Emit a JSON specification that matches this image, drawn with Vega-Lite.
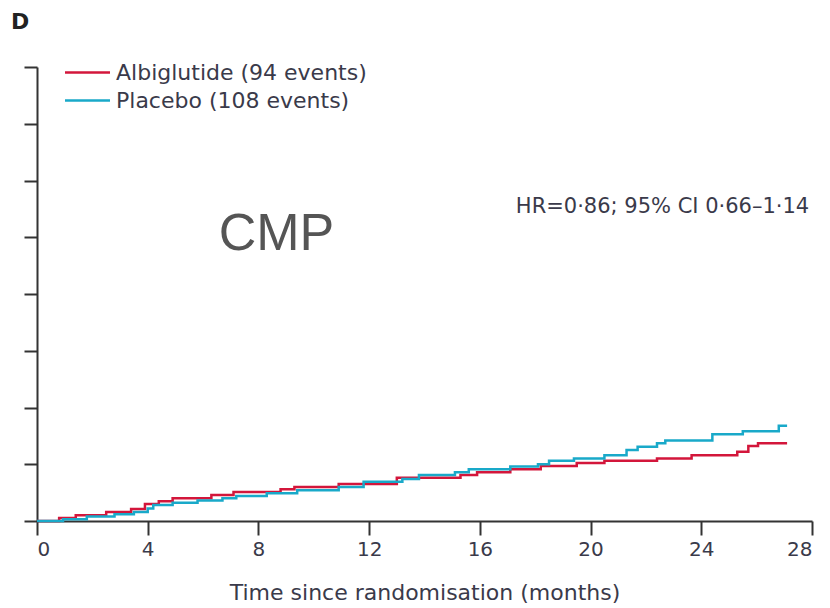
{
  "$schema": "https://vega.github.io/schema/vega-lite/v6.json",
  "width": 775,
  "height": 454,
  "autosize": "none",
  "padding": {"left": 37, "top": 67, "right": 18, "bottom": 87},
  "background": "white",
  "title": {"text": "D", "anchor": "start", "fontSize": 22, "fontWeight": "bold", "color": "#222", "dx": -12, "dy": 2, "offset": 28, "font": "DejaVu Sans"},
  "config": {
    "view": {"stroke": null},
    "font": "DejaVu Sans",
    "axis": {"domainColor": "#333", "tickColor": "#333", "domainWidth": 2, "tickWidth": 2, "grid": false, "labelFont": "DejaVu Sans", "titleFont": "DejaVu Sans", "labelColor": "#3a3a4a", "titleColor": "#3a3a4a"}
  },
  "layer": [
    {
      "data": {"values": [
        {"t": 0, "v": 0, "g": "Albiglutide (94 events)"},
        {"t": 0.8, "v": 0.26, "g": "Albiglutide (94 events)"},
        {"t": 1.4, "v": 0.5, "g": "Albiglutide (94 events)"},
        {"t": 2.5, "v": 0.8, "g": "Albiglutide (94 events)"},
        {"t": 3.4, "v": 1.05, "g": "Albiglutide (94 events)"},
        {"t": 3.9, "v": 1.5, "g": "Albiglutide (94 events)"},
        {"t": 4.4, "v": 1.75, "g": "Albiglutide (94 events)"},
        {"t": 4.9, "v": 2.0, "g": "Albiglutide (94 events)"},
        {"t": 6.3, "v": 2.3, "g": "Albiglutide (94 events)"},
        {"t": 7.1, "v": 2.55, "g": "Albiglutide (94 events)"},
        {"t": 8.8, "v": 2.8, "g": "Albiglutide (94 events)"},
        {"t": 9.3, "v": 3.0, "g": "Albiglutide (94 events)"},
        {"t": 10.9, "v": 3.25, "g": "Albiglutide (94 events)"},
        {"t": 13.0, "v": 3.8, "g": "Albiglutide (94 events)"},
        {"t": 15.3, "v": 4.05, "g": "Albiglutide (94 events)"},
        {"t": 15.9, "v": 4.3, "g": "Albiglutide (94 events)"},
        {"t": 17.1, "v": 4.55, "g": "Albiglutide (94 events)"},
        {"t": 18.2, "v": 4.85, "g": "Albiglutide (94 events)"},
        {"t": 19.5, "v": 5.1, "g": "Albiglutide (94 events)"},
        {"t": 20.5, "v": 5.3, "g": "Albiglutide (94 events)"},
        {"t": 22.4, "v": 5.5, "g": "Albiglutide (94 events)"},
        {"t": 23.65, "v": 5.8, "g": "Albiglutide (94 events)"},
        {"t": 25.3, "v": 6.1, "g": "Albiglutide (94 events)"},
        {"t": 25.7, "v": 6.6, "g": "Albiglutide (94 events)"},
        {"t": 26.05, "v": 6.85, "g": "Albiglutide (94 events)"},
        {"t": 27.1, "v": 6.85, "g": "Albiglutide (94 events)"},
        {"t": 0, "v": 0, "g": "Placebo (108 events)"},
        {"t": 0.94, "v": 0.15, "g": "Placebo (108 events)"},
        {"t": 1.8, "v": 0.4, "g": "Placebo (108 events)"},
        {"t": 2.8, "v": 0.6, "g": "Placebo (108 events)"},
        {"t": 3.5, "v": 0.8, "g": "Placebo (108 events)"},
        {"t": 4.0, "v": 1.1, "g": "Placebo (108 events)"},
        {"t": 4.2, "v": 1.4, "g": "Placebo (108 events)"},
        {"t": 4.9, "v": 1.6, "g": "Placebo (108 events)"},
        {"t": 5.8, "v": 1.8, "g": "Placebo (108 events)"},
        {"t": 6.7, "v": 2.0, "g": "Placebo (108 events)"},
        {"t": 7.2, "v": 2.2, "g": "Placebo (108 events)"},
        {"t": 8.3, "v": 2.45, "g": "Placebo (108 events)"},
        {"t": 9.4, "v": 2.7, "g": "Placebo (108 events)"},
        {"t": 10.9, "v": 3.0, "g": "Placebo (108 events)"},
        {"t": 11.8, "v": 3.45, "g": "Placebo (108 events)"},
        {"t": 13.2, "v": 3.7, "g": "Placebo (108 events)"},
        {"t": 13.8, "v": 4.05, "g": "Placebo (108 events)"},
        {"t": 15.1, "v": 4.3, "g": "Placebo (108 events)"},
        {"t": 15.6, "v": 4.55, "g": "Placebo (108 events)"},
        {"t": 17.1, "v": 4.8, "g": "Placebo (108 events)"},
        {"t": 18.1, "v": 5.0, "g": "Placebo (108 events)"},
        {"t": 18.5, "v": 5.3, "g": "Placebo (108 events)"},
        {"t": 19.4, "v": 5.5, "g": "Placebo (108 events)"},
        {"t": 20.5, "v": 5.8, "g": "Placebo (108 events)"},
        {"t": 21.3, "v": 6.25, "g": "Placebo (108 events)"},
        {"t": 21.7, "v": 6.55, "g": "Placebo (108 events)"},
        {"t": 22.4, "v": 6.85, "g": "Placebo (108 events)"},
        {"t": 22.7, "v": 7.1, "g": "Placebo (108 events)"},
        {"t": 24.4, "v": 7.65, "g": "Placebo (108 events)"},
        {"t": 25.5, "v": 7.9, "g": "Placebo (108 events)"},
        {"t": 26.8, "v": 8.4, "g": "Placebo (108 events)"},
        {"t": 27.1, "v": 8.4, "g": "Placebo (108 events)"}
      ]},
      "mark": {"type": "line", "interpolate": "step-after", "strokeWidth": 2.5},
      "encoding": {
        "x": {"field": "t", "type": "quantitative", "scale": {"domain": [0, 28], "nice": false, "zero": true},
              "axis": {"values": [0, 4, 8, 12, 16, 20, 24, 28], "tickSize": 14, "labelFontSize": 20, "labelPadding": 4, "title": "Time since randomisation (months)", "titleFontSize": 22, "titleFontWeight": "normal", "titlePadding": 23}},
        "y": {"field": "v", "type": "quantitative", "scale": {"domain": [0, 40], "nice": false},
              "axis": {"values": [0, 5, 10, 15, 20, 25, 30, 35, 40], "tickSize": 13, "labels": false, "title": null}},
        "color": {"field": "g", "type": "nominal", "sort": null,
                  "scale": {"domain": ["Albiglutide (94 events)", "Placebo (108 events)"], "range": ["#d3163b", "#19a9c9"]},
                  "legend": {"orient": "none", "legendX": 38, "legendY": -7, "title": null, "symbolType": "M-2,0H2", "symbolSize": 506, "symbolStrokeWidth": 2.5, "labelFontSize": 22, "labelColor": "#3a3a4a", "labelOffset": 16, "rowPadding": 4, "labelLimit": 500, "labelFont": "DejaVu Sans"}}
      }
    },
    {
      "data": {"values": [{}]},
      "mark": {"type": "text", "text": "HR=0·86; 95% CI 0·66–1·14", "align": "right", "baseline": "middle", "fontSize": 21, "color": "#3a3a4a", "font": "DejaVu Sans"},
      "encoding": {"x": {"datum": 27.9}, "y": {"datum": 27.7}}
    },
    {
      "data": {"values": [{}]},
      "mark": {"type": "text", "text": "CMP", "align": "center", "baseline": "middle", "fontSize": 52, "color": "#555555", "font": "Liberation Sans"},
      "encoding": {"x": {"datum": 8.65}, "y": {"datum": 25.3}}
    }
  ]
}
